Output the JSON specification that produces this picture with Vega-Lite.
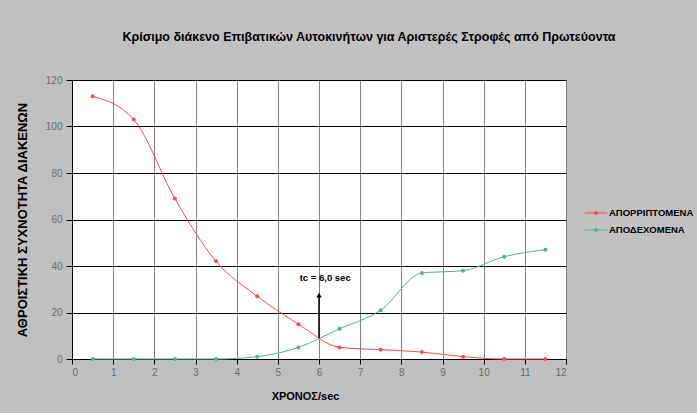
{
  "$schema": "https://vega.github.io/schema/vega-lite/v6.json",
  "width": 494,
  "height": 279,
  "autosize": {"type": "none"},
  "padding": {"left": 72, "top": 80, "right": 131, "bottom": 54},
  "background": "#c0c0c0",
  "title": {
    "text": "Κρίσιμο διάκενο Επιβατικών Αυτοκινήτων για Αριστερές Στροφές από Πρωτεύοντα",
    "font": "Liberation Sans",
    "fontSize": 12.5,
    "fontWeight": "bold",
    "color": "#000000",
    "anchor": "middle",
    "frame": "group",
    "dx": 50,
    "offset": 32
  },
  "config": {
    "view": {"fill": "#ffffff", "stroke": null},
    "font": "Liberation Sans"
  },
  "datasets": {
    "series": [
      {"t": 0.5, "n": 113, "s": "ΑΠΟΡΡΙΠΤΟΜΕΝΑ"},
      {"t": 1.5, "n": 103, "s": "ΑΠΟΡΡΙΠΤΟΜΕΝΑ"},
      {"t": 2.5, "n": 69, "s": "ΑΠΟΡΡΙΠΤΟΜΕΝΑ"},
      {"t": 3.5, "n": 42, "s": "ΑΠΟΡΡΙΠΤΟΜΕΝΑ"},
      {"t": 4.5, "n": 27, "s": "ΑΠΟΡΡΙΠΤΟΜΕΝΑ"},
      {"t": 5.5, "n": 15, "s": "ΑΠΟΡΡΙΠΤΟΜΕΝΑ"},
      {"t": 6.5, "n": 5, "s": "ΑΠΟΡΡΙΠΤΟΜΕΝΑ"},
      {"t": 7.5, "n": 4, "s": "ΑΠΟΡΡΙΠΤΟΜΕΝΑ"},
      {"t": 8.5, "n": 3, "s": "ΑΠΟΡΡΙΠΤΟΜΕΝΑ"},
      {"t": 9.5, "n": 1, "s": "ΑΠΟΡΡΙΠΤΟΜΕΝΑ"},
      {"t": 10.5, "n": 0, "s": "ΑΠΟΡΡΙΠΤΟΜΕΝΑ"},
      {"t": 11.5, "n": 0, "s": "ΑΠΟΡΡΙΠΤΟΜΕΝΑ"},
      {"t": 0.5, "n": 0, "s": "ΑΠΟΔΕΧΟΜΕΝΑ"},
      {"t": 1.5, "n": 0, "s": "ΑΠΟΔΕΧΟΜΕΝΑ"},
      {"t": 2.5, "n": 0, "s": "ΑΠΟΔΕΧΟΜΕΝΑ"},
      {"t": 3.5, "n": 0, "s": "ΑΠΟΔΕΧΟΜΕΝΑ"},
      {"t": 4.5, "n": 1, "s": "ΑΠΟΔΕΧΟΜΕΝΑ"},
      {"t": 5.5, "n": 5, "s": "ΑΠΟΔΕΧΟΜΕΝΑ"},
      {"t": 6.5, "n": 13, "s": "ΑΠΟΔΕΧΟΜΕΝΑ"},
      {"t": 7.5, "n": 21, "s": "ΑΠΟΔΕΧΟΜΕΝΑ"},
      {"t": 8.5, "n": 37, "s": "ΑΠΟΔΕΧΟΜΕΝΑ"},
      {"t": 9.5, "n": 38, "s": "ΑΠΟΔΕΧΟΜΕΝΑ"},
      {"t": 10.5, "n": 44, "s": "ΑΠΟΔΕΧΟΜΕΝΑ"},
      {"t": 11.5, "n": 47, "s": "ΑΠΟΔΕΧΟΜΕΝΑ"}
    ],
    "critical": [
      {"t": 6, "from": 9, "to": 27.5, "label": "tc = 6,0 sec", "labelT": 6.15, "labelN": 35}
    ]
  },
  "layer": [
    {
      "data": {"name": "series"},
      "mark": {"type": "line", "interpolate": "monotone", "strokeWidth": 1},
      "encoding": {
        "x": {
          "field": "t",
          "type": "quantitative",
          "scale": {"domain": [0, 12], "nice": false},
          "axis": {
            "values": [0, 0.5, 1, 1.5, 2, 2.5, 3, 3.5, 4, 4.5, 5, 5.5, 6, 6.5, 7, 7.5, 8, 8.5, 9, 9.5, 10, 10.5, 11, 11.5, 12],
            "labelExpr": "datum.value % 1 === 0 ? datum.label : ''",
            "title": "ΧΡΟΝΟΣ/sec",
            "titleFont": "Liberation Sans",
            "titleFontSize": 11,
            "titleFontWeight": "bold",
            "titleColor": "#000000",
            "titlePadding": 13,
            "titleX": 233,
            "labelFont": "Liberation Sans",
            "labelFontSize": 10,
            "labelColor": "#6a6a6a",
            "labelPadding": 3,
            "domainColor": "#000000",
            "tickColor": "#000000",
            "tickSize": 5,
            "tickOpacity": {"condition": {"test": "datum.value % 1 === 0", "value": 1}, "value": 0},
            "grid": true,
            "gridColor": {"condition": {"test": "datum.value % 1 === 0", "value": "#808080"}, "value": "#222222"},
            "gridOpacity": 1,
            "gridWidth": 1
          }
        },
        "y": {
          "field": "n",
          "type": "quantitative",
          "scale": {"domain": [0, 120], "nice": false},
          "axis": {
            "values": [0, 20, 40, 60, 80, 100, 120],
            "title": "ΑΘΡΟΙΣΤΙΚΗ ΣΥΧΝΟΤΗΤΑ ΔΙΑΚΕΝΩΝ",
            "titleFont": "Liberation Sans",
            "titleFontSize": 13,
            "titleFontWeight": "bold",
            "titleColor": "#000000",
            "titlePadding": 16,
            "labelFont": "Liberation Sans",
            "labelFontSize": 10,
            "labelColor": "#6a6a6a",
            "labelPadding": 4,
            "domainColor": "#000000",
            "tickColor": "#000000",
            "tickSize": 6,
            "grid": true,
            "gridColor": "#000000",
            "gridOpacity": 1
          }
        },
        "color": {
          "field": "s",
          "type": "nominal",
          "sort": ["ΑΠΟΡΡΙΠΤΟΜΕΝΑ", "ΑΠΟΔΕΧΟΜΕΝΑ"],
          "scale": {"domain": ["ΑΠΟΡΡΙΠΤΟΜΕΝΑ", "ΑΠΟΔΕΧΟΜΕΝΑ"], "range": ["#ff4a4a", "#4fb397"]},
          "legend": {
            "orient": "none",
            "legendX": 512,
            "legendY": 121,
            "title": null,
            "symbolType": "M-1,0H1M-0.12,0a0.12,0.12 0 1,0 0.24,0a0.12,0.12 0 1,0 -0.24,0",
            "symbolSize": 500,
            "symbolStrokeWidth": 1.2,
            "labelFont": "Liberation Sans",
            "labelFontSize": 9.5,
            "labelFontWeight": "bold",
            "labelColor": "#000000",
            "labelOffset": 1,
            "rowPadding": -5,
            "labelLimit": 300
          }
        }
      }
    },
    {
      "data": {"name": "series"},
      "mark": {"type": "point", "filled": true, "size": 16, "opacity": 1},
      "encoding": {
        "x": {"field": "t", "type": "quantitative"},
        "y": {"field": "n", "type": "quantitative"},
        "color": {
          "field": "s",
          "type": "nominal",
          "scale": {"domain": ["ΑΠΟΡΡΙΠΤΟΜΕΝΑ", "ΑΠΟΔΕΧΟΜΕΝΑ"], "range": ["#e01010", "#2e8f6e"]},
          "legend": null
        }
      }
    },
    {
      "data": {"name": "critical"},
      "mark": {"type": "rule", "color": "#000000", "strokeWidth": 1.5},
      "encoding": {
        "x": {"field": "t", "type": "quantitative"},
        "y": {"field": "from", "type": "quantitative"},
        "y2": {"field": "to"}
      }
    },
    {
      "data": {"name": "critical"},
      "mark": {"type": "point", "shape": "triangle-up", "filled": true, "color": "#000000", "size": 30, "opacity": 1},
      "encoding": {
        "x": {"field": "t", "type": "quantitative"},
        "y": {"field": "to", "type": "quantitative"}
      }
    },
    {
      "data": {"name": "critical"},
      "mark": {"type": "text", "font": "Liberation Sans", "fontSize": 9.5, "fontWeight": "bold", "color": "#000000", "align": "center", "baseline": "middle"},
      "encoding": {
        "x": {"field": "labelT", "type": "quantitative"},
        "y": {"field": "labelN", "type": "quantitative"},
        "text": {"field": "label"}
      }
    }
  ]
}
